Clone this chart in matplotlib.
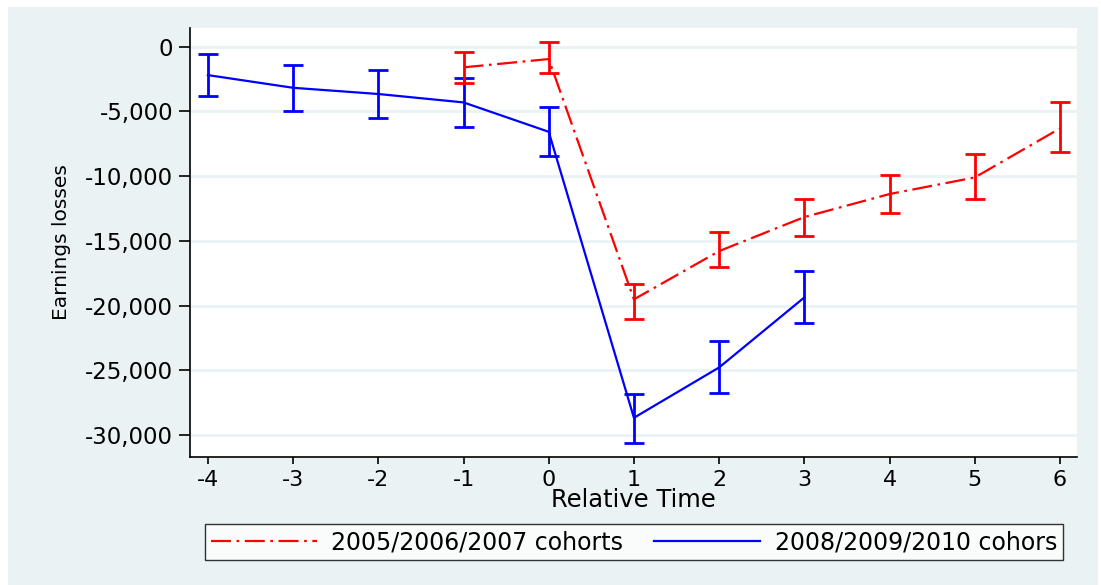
import matplotlib
matplotlib.use("Agg")
import matplotlib.pyplot as plt
from matplotlib.lines import Line2D

# ---- data ----
time_red = [-1, 0, 1, 2, 3, 4, 5, 6]
red_mean = [-1590, -950, -19520, -15790, -13160, -11380, -10100, -6310]
red_lo = [-2780, -2060, -21045, -17050, -14630, -12860, -11770, -8110]
red_hi = [-430, 340, -18360, -14330, -11780, -9920, -8290, -4300]

time_blue = [-4, -3, -2, -1, 0, 1, 2, 3]
blue_mean = [-2190, -3170, -3650, -4300, -6570, -28670, -24780, -19370]
blue_lo = [-3790, -4950, -5510, -6180, -8450, -30600, -26790, -21330]
blue_hi = [-560, -1410, -1800, -2400, -4680, -26840, -22720, -17310]

label_red = "2005/2006/2007 cohorts"
label_blue = "2008/2009/2010 cohors"
xticks = [-4, -3, -2, -1, 0, 1, 2, 3, 4, 5, 6]
yticks = [0, -5000, -10000, -15000, -20000, -25000, -30000]
ytick_labels = ["0", "-5,000", "-10,000", "-15,000", "-20,000", "-25,000", "-30,000"]

plt.rcParams['font.family'] = ['DejaVu Sans']

BG = "#EAF2F3"
RED = "#FF0000"
BLUE = "#0000FF"
W, H = 1101, 585

fig = plt.figure(figsize=(W / 100, H / 100), dpi=100)
fig.patch.set_facecolor("white")
fig.patches.append(plt.Rectangle((8 / W, 0), 1090 / W, 1 - 7 / H,
                                 transform=fig.transFigure, facecolor=BG,
                                 edgecolor="none", zorder=-10))

ax = fig.add_axes([190 / W, 1 - 457 / H, (1077 - 190) / W, (457 - 28) / H])
ax.set_facecolor("white")

red_ls = (0, (9, 2.5, 1.2, 2.5))

ax.errorbar(time_blue, blue_mean,
            yerr=[[m - lo for m, lo in zip(blue_mean, blue_lo)],
                  [hi - m for m, hi in zip(blue_mean, blue_hi)]],
            color=BLUE, lw=1.6, elinewidth=2.0, capsize=7, capthick=2.0, zorder=3)
line_r, caps_r, bars_r = ax.errorbar(time_red, red_mean,
            yerr=[[m - lo for m, lo in zip(red_mean, red_lo)],
                  [hi - m for m, hi in zip(red_mean, red_hi)]],
            color=RED, lw=1.6, elinewidth=2.0, capsize=7, capthick=2.0, zorder=3)
line_r.set_linestyle(red_ls)

ax.set_xlim(-4.21, 6.2)
ax.set_ylim(-31700, 1450)
ax.set_xticks(xticks)
ax.set_xticklabels([str(t) for t in xticks], fontsize=16)
ax.set_yticks(yticks)
ax.set_yticklabels(ytick_labels, fontsize=16.5)
ax.grid(axis="y", color=BG, lw=2.0, zorder=0)
ax.set_axisbelow(True)

for s in ["top", "right"]:
    ax.spines[s].set_visible(False)
ax.spines["left"].set_linewidth(1.2)
ax.spines["bottom"].set_linewidth(1.2)
ax.tick_params(axis="y", length=8, width=1.2, pad=4)
ax.tick_params(axis="x", length=5, width=1.2, pad=4)

ax.set_xlabel("Relative Time", fontsize=17.5)
ax.xaxis.set_label_coords(0.5, -0.072)
ax.set_ylabel("Earnings losses", fontsize=14.5)
ax.yaxis.set_label_coords(-0.134, 0.5)

handles = [Line2D([], [], color=RED, lw=1.6, linestyle=red_ls),
           Line2D([], [], color=BLUE, lw=1.6)]
leg = fig.legend(handles, [label_red, label_blue], loc="center",
                 bbox_to_anchor=(634 / W, 1 - 542 / H),
                 ncol=2, fontsize=17, handlelength=4.5,
                 handletextpad=0.6, columnspacing=1.3, borderaxespad=0,
                 fancybox=False, frameon=True, borderpad=0.25)
leg.get_frame().set_edgecolor("black")
leg.get_frame().set_linewidth(1.0)
leg.get_frame().set_facecolor("white")

fig.savefig("out.png", dpi=100, facecolor=fig.get_facecolor())
